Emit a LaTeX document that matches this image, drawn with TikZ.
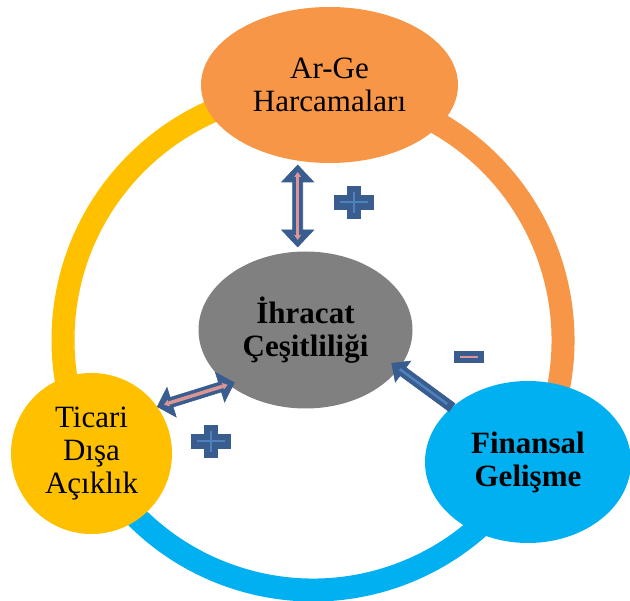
\documentclass[tikz,border=0pt]{standalone}
\usepackage{fontspec}
\setmainfont{Liberation Serif}
\usetikzlibrary{shapes.geometric,arrows.meta,calc}
\definecolor{cOrange}{HTML}{F79646}
\definecolor{cYellow}{HTML}{FFC000}
\definecolor{cCyan}{HTML}{00B0F0}
\definecolor{cGray}{HTML}{808080}
\definecolor{cDark}{HTML}{3A5D8F}
\definecolor{cPink}{HTML}{D99694}
\definecolor{cLight}{HTML}{4F81BD}
\tikzset{
  ringarc/.style={line width=23pt, line cap=butt},
  bubble/.style={ellipse, inner sep=0pt, align=center, text=black,
    font=\fontsize{31}{33}\selectfont},
  blockfill/.style={fill=cDark, draw=cDark, line width=0.6pt, line join=miter},
  pinkline/.style={draw=cPink, line width=3.5pt,
    {Triangle[width=7pt,length=5pt,line width=0pt]}-{Triangle[width=7pt,length=5pt,line width=0pt]}},
  lightline/.style={draw=cLight, line width=2.5pt},
  plussign/.pic={
    \fill[cDark] (-20,-7.5) rectangle (20,7.5);
    \fill[cDark] (-7,-16.5) rectangle (7,16.5);
    \draw[cLight, line width=2pt] (-14,0) -- (14,0) (0,-10.5) -- (0,10.5);
  },
  minussign/.pic={
    \fill[cDark] (-15,-6) rectangle (15,6);
    \draw[cPink, line width=2pt] (-9,0) -- (9,0);
  }
}
% double block arrow between tips #1 and #2; #3 head length, #4 head half width, #5 shaft half width
\newcommand\dblblock[5]{%
  \path[blockfill] (#1)
   -- ($(#1)!#3!(#2)!#4!90:(#2)$)
   -- ($(#1)!#3!(#2)!#5!90:(#2)$)
   -- ($(#2)!#3!(#1)!#5!-90:(#1)$)
   -- ($(#2)!#3!(#1)!#4!-90:(#1)$)
   -- (#2)
   -- ($(#2)!#3!(#1)!#4!90:(#1)$)
   -- ($(#2)!#3!(#1)!#5!90:(#1)$)
   -- ($(#1)!#3!(#2)!#5!-90:(#2)$)
   -- ($(#1)!#3!(#2)!#4!-90:(#2)$)
   -- cycle;}
% single block arrow from tail #1 to head tip #2
\newcommand\oneblock[5]{%
  \path[blockfill] (#2)
   -- ($(#2)!#3!(#1)!#4!90:(#1)$)
   -- ($(#2)!#3!(#1)!#5!90:(#1)$)
   -- ($(#1)!#5!-90:(#2)$)
   -- ($(#1)!#5!90:(#2)$)
   -- ($(#2)!#3!(#1)!#5!-90:(#1)$)
   -- ($(#2)!#3!(#1)!#4!-90:(#1)$)
   -- cycle;}
\begin{document}
\begin{tikzpicture}[x=1pt,y=-1pt]
\useasboundingbox (0,0) rectangle (630,601);
\fill[white] (0,0) rectangle (630,601);

% ring
\begin{scope}[shift={(313,340)}]
\begin{scope}[y=1pt]
  \draw[ringarc, cYellow] (86:250) arc[start angle=86, end angle=207, radius=250];
  \draw[ringarc, cOrange] (-30:250) arc[start angle=-30, end angle=86, radius=250];
  \draw[ringarc, cCyan] (207:250) arc[start angle=207, end angle=330, radius=250];
\end{scope}
\end{scope}

% nodes
\node[bubble, fill=cOrange, minimum width=257pt, minimum height=156pt] (arge) at (329.5,85) {Ar-Ge\\Harcamaları};
\node[bubble, fill=cGray, minimum width=214pt, minimum height=157pt, font=\fontsize{31}{33}\selectfont\bfseries] (ihr) at (305.5,330) {İhracat\\Çeşitliliği};
\node[bubble, circle, fill=cYellow, minimum size=161pt] (tic) at (91.5,453.5) {Ticari\\Dışa\\Açıklık};
\node[bubble, fill=cCyan, minimum width=206pt, minimum height=162pt, font=\fontsize{31}{33}\selectfont\bfseries] (fin) at (528,462) {Finansal\\Gelişme};

% arrows
\coordinate (vA) at (297.7,165);
\coordinate (vB) at (297.7,247);
\dblblock{vA}{vB}{17pt}{16pt}{5pt}
\draw[pinkline] ($(vA)!7pt!(vB)$) -- ($(vB)!7pt!(vA)$);

\coordinate (dA) at (157.3,406.7);
\coordinate (dB) at (234.3,382.7);
\dblblock{dA}{dB}{15pt}{15.5pt}{5pt}
\draw[pinkline] ($(dA)!7pt!(dB)$) -- ($(dB)!7pt!(dA)$);

\coordinate (sT) at (452,407.5);
\coordinate (sH) at (391.7,363.3);
\oneblock{sT}{sH}{14pt}{13pt}{5pt}
\draw[lightline] ($(sT)!6pt!(sH)$) -- ($(sH)!10pt!(sT)$);

% signs
\pic at (354,202.5) {plussign};
\pic at (211,441.5) {plussign};
\pic at (469,356.7) {minussign};
\end{tikzpicture}
\end{document}
